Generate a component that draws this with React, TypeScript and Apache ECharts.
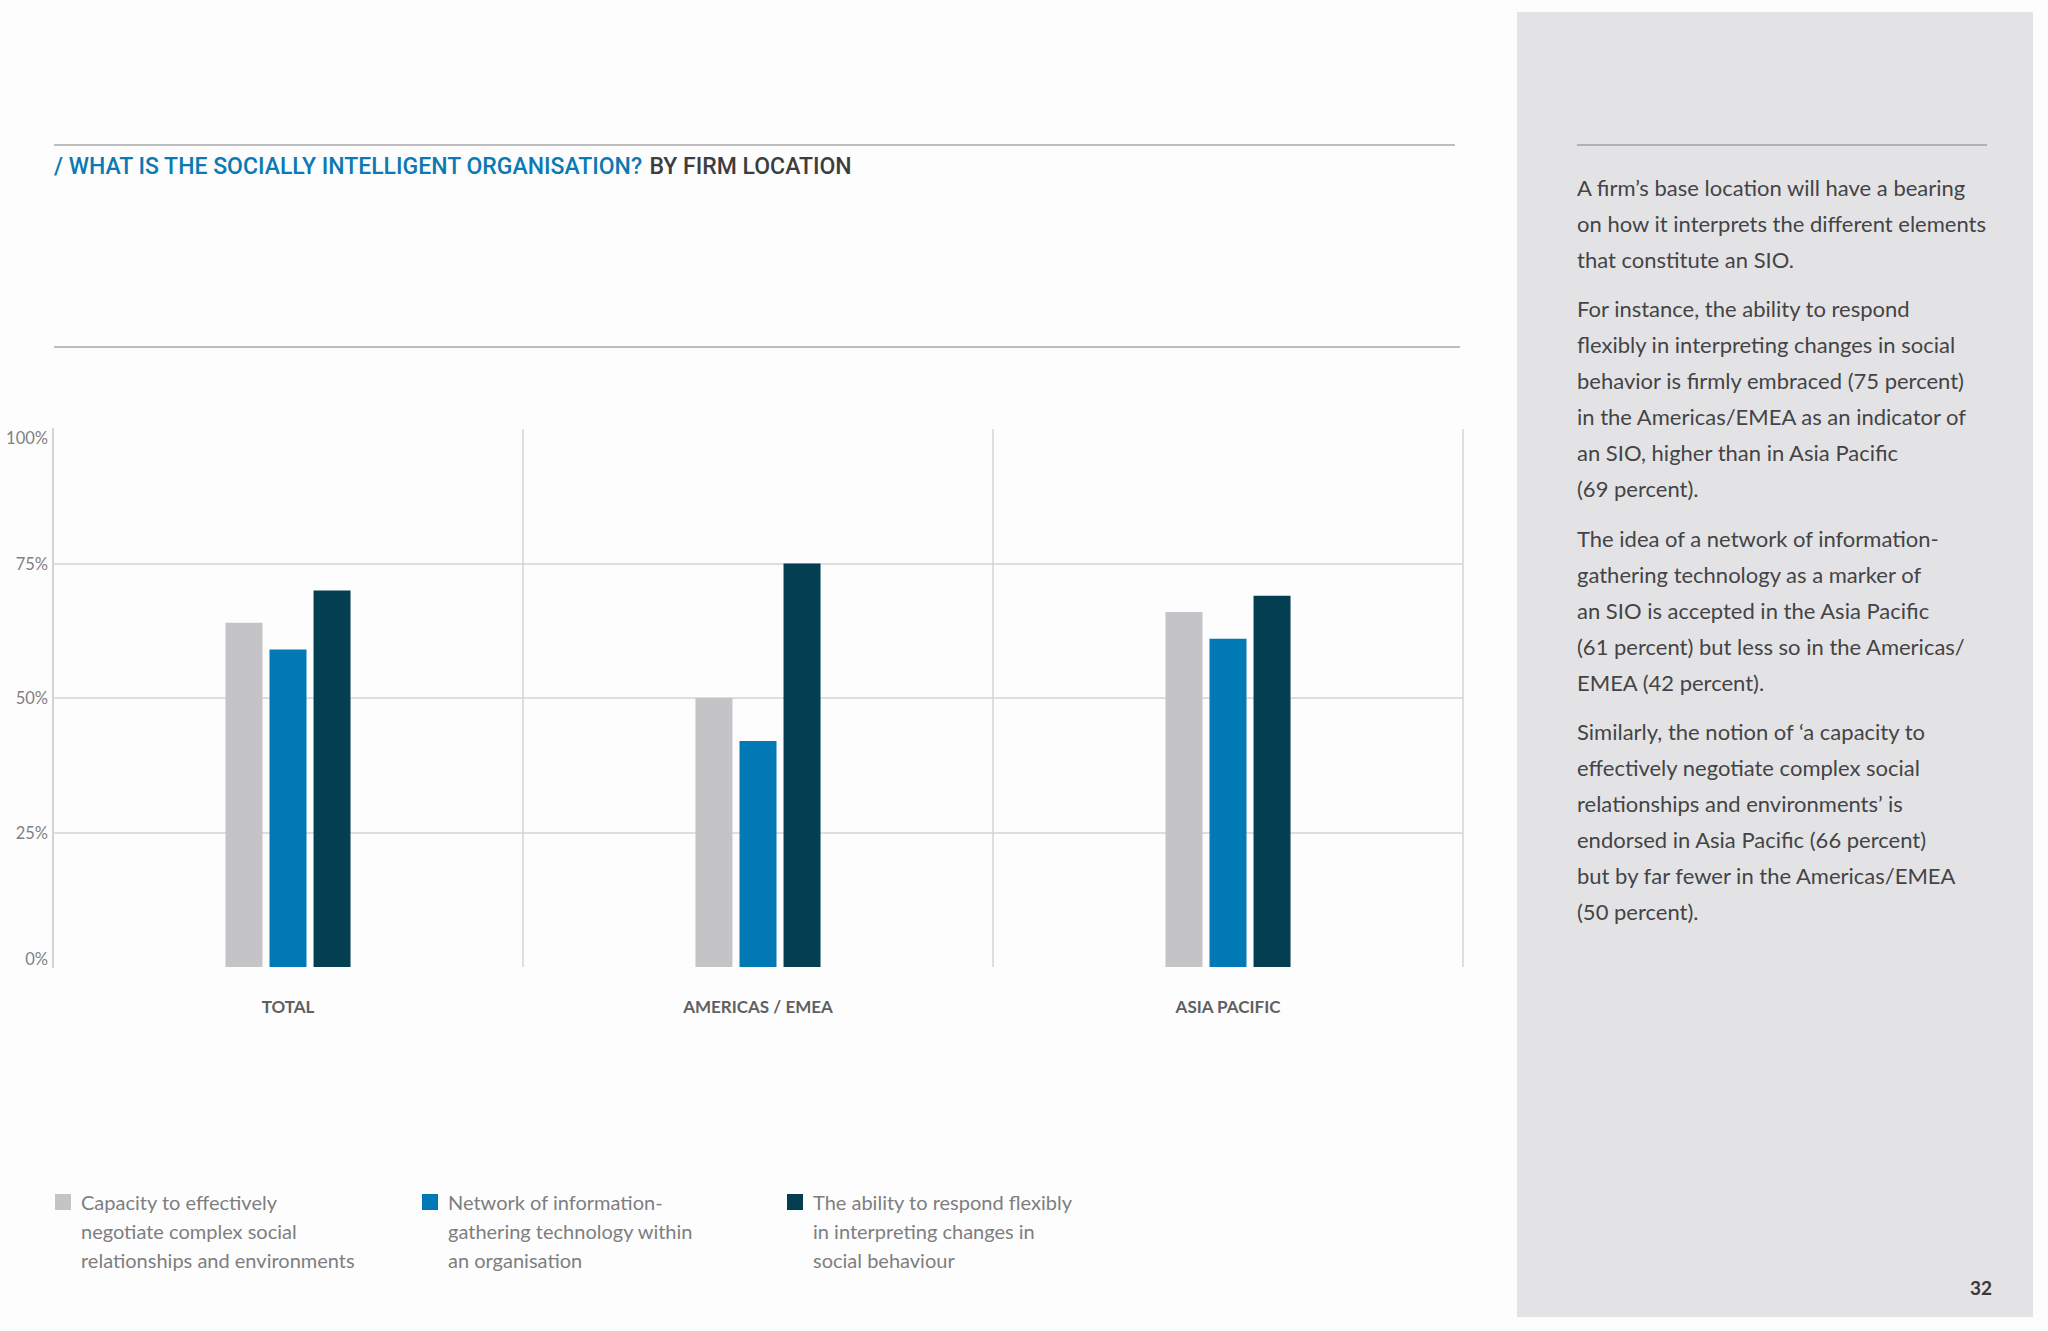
import React, { useEffect, useRef } from 'react';
import * as echarts from 'echarts';

const categories = ['TOTAL', 'AMERICAS / EMEA', 'ASIA PACIFIC'];
const seriesNames = [
  'Capacity to effectively negotiate complex social relationships and environments',
  'Network of information-gathering technology within an organisation',
  'The ability to respond flexibly in interpreting changes in social behaviour',
];
const legendLines = [
  ['Capacity to effectively', 'negotiate complex social', 'relationships and environments'],
  ['Network of information-', 'gathering technology within', 'an organisation'],
  ['The ability to respond flexibly', 'in interpreting changes in', 'social behaviour'],
];
const capacityValues = [64, 50, 66];
const networkValues = [59, 42, 61];
const abilityValues = [70, 75, 69];
const seriesColors = ['#c4c4c7', '#0079b5', '#033f50'];
const yMin = 0;
const yMax = 100;
const yInterval = 25;

const titleMain = '/ WHAT IS THE SOCIALLY INTELLIGENT ORGANISATION?';
const titleSub = ' BY FIRM LOCATION';
const paragraphs = [
  [
    'A firm\u2019s base location will have a bearing',
    'on how it interprets the different elements',
    'that constitute an SIO.',
  ],
  [
    'For instance, the ability to respond',
    'flexibly in interpreting changes in social',
    'behavior is firmly embraced (75 percent)',
    'in the Americas/EMEA as an indicator of',
    'an SIO, higher than in Asia Pacific',
    '(69 percent).',
  ],
  [
    'The idea of a network of information-',
    'gathering technology as a marker of',
    'an SIO is accepted in the Asia Pacific',
    '(61 percent) but less so in the Americas/',
    'EMEA (42 percent).',
  ],
  [
    'Similarly, the notion of \u2018a capacity to',
    'effectively negotiate complex social',
    'relationships and environments\u2019 is',
    'endorsed in Asia Pacific (66 percent)',
    'but by far fewer in the Americas/EMEA',
    '(50 percent).',
  ],
];
const pageNumber = '32';

export default function App() {
  const ref = useRef<HTMLDivElement>(null);

  useEffect(() => {
    if (!ref.current) return;
    const chart = echarts.init(ref.current, undefined, { renderer: 'svg' });

    const lineH = 36;
    const paraGap = 13.6;
    let top = 169;
    const paraGraphics: any[] = [];
    paragraphs.forEach((p) => {
      paraGraphics.push({
        type: 'text',
        left: 1577,
        top,
        style: {
          text: p.join('\n'),
          fontFamily: 'Lato',
          fontSize: 22,
          lineHeight: lineH,
          fill: '#444446',
        },
        z: 10,
      });
      top += p.length * lineH + paraGap;
    });

    const legendLefts = [55, 422, 787];
    const legends = seriesNames.map((name, i) => ({
      show: true,
      data: [name],
      left: legendLefts[i],
      top: 1129.5,
      orient: 'horizontal',
      padding: 0,
      itemWidth: 16,
      itemHeight: 16,
      icon: 'rect',
      selectedMode: false,
      // two leading blank lines put the first text line level with the square
      formatter: (n: string) => '\n\n' + legendLines[seriesNames.indexOf(n)].join('\n'),
      textStyle: {
        fontFamily: 'Lato',
        fontSize: 20,
        lineHeight: 29,
        color: '#7e7e80',
        padding: [0, 0, 0, 5],
      },
    }));

    const option: any = {
      animation: false,
      backgroundColor: '#fdfdfd',
      grid: { left: 53, width: 1410, top: 429, height: 538, containLabel: false },
      legend: legends,
      xAxis: {
        type: 'category',
        data: categories,
        boundaryGap: true,
        axisLine: { show: false },
        axisTick: { show: false },
        splitLine: { show: true, lineStyle: { color: '#d3d3d7', width: 1.5 } },
        axisLabel: {
          margin: 31,
          fontFamily: 'Lato',
          fontSize: 17,
          fontWeight: 'bold',
          color: '#606062',
        },
      },
      yAxis: {
        type: 'value',
        min: yMin,
        max: yMax,
        interval: yInterval,
        axisLine: { show: true, lineStyle: { color: '#d3d3d7', width: 2 } },
        axisTick: { show: false },
        splitLine: {
          show: true,
          showMinLine: false,
          showMaxLine: false,
          lineStyle: { color: '#d3d3d7', width: 1.5 },
        },
        axisLabel: {
          formatter: '{value}%',
          margin: 5,
          fontFamily: 'Lato',
          fontSize: 16.5,
          color: '#808082',
          verticalAlignMinLabel: 'bottom',
          verticalAlignMaxLabel: 'top',
        },
      },
      series: [
        { name: seriesNames[0], type: 'bar', data: capacityValues, barWidth: 37, barGap: '19%', itemStyle: { color: seriesColors[0] } },
        { name: seriesNames[1], type: 'bar', data: networkValues, barWidth: 37, barGap: '19%', itemStyle: { color: seriesColors[1] } },
        { name: seriesNames[2], type: 'bar', data: abilityValues, barWidth: 37, barGap: '19%', itemStyle: { color: seriesColors[2] } },
      ],
      graphic: [
        {
          type: 'rect',
          shape: { x: 1517, y: 12, width: 516, height: 1305 },
          style: { fill: '#e3e3e5' },
          z: 0,
          silent: true,
        },
        {
          type: 'line',
          shape: { x1: 54, y1: 145, x2: 1455, y2: 145 },
          style: { stroke: '#a8a8ac', lineWidth: 1.5 },
        },
        {
          type: 'line',
          shape: { x1: 54, y1: 347, x2: 1460, y2: 347 },
          style: { stroke: '#a8a8ac', lineWidth: 1.5 },
        },
        {
          type: 'line',
          shape: { x1: 1577, y1: 145, x2: 1987, y2: 145 },
          style: { stroke: '#a0a0a4', lineWidth: 1.5 },
          z: 10,
        },
        {
          type: 'text',
          left: 54,
          top: 154.5,
          style: {
            text: `{a|${titleMain}}{b|${titleSub}}`,
            rich: {
              a: { fill: '#0b79b3', fontFamily: 'Roboto', fontWeight: 500, fontSize: 23 },
              b: { fill: '#3d3d3f', fontFamily: 'Roboto', fontWeight: 500, fontSize: 23 },
            },
          },
        },
        ...paraGraphics,
        {
          type: 'text',
          left: 1970,
          top: 1278,
          style: {
            text: pageNumber,
            fontFamily: 'Lato',
            fontWeight: 'bold',
            fontSize: 19,
            fill: '#38383a',
          },
          z: 10,
        },
      ],
    };

    chart.setOption(option);
    return () => chart.dispose();
  }, []);

  return (
    <div
      ref={ref}
      style={{ position: 'fixed', left: 0, top: 0, width: 2048, height: 1331 }}
    />
  );
}
